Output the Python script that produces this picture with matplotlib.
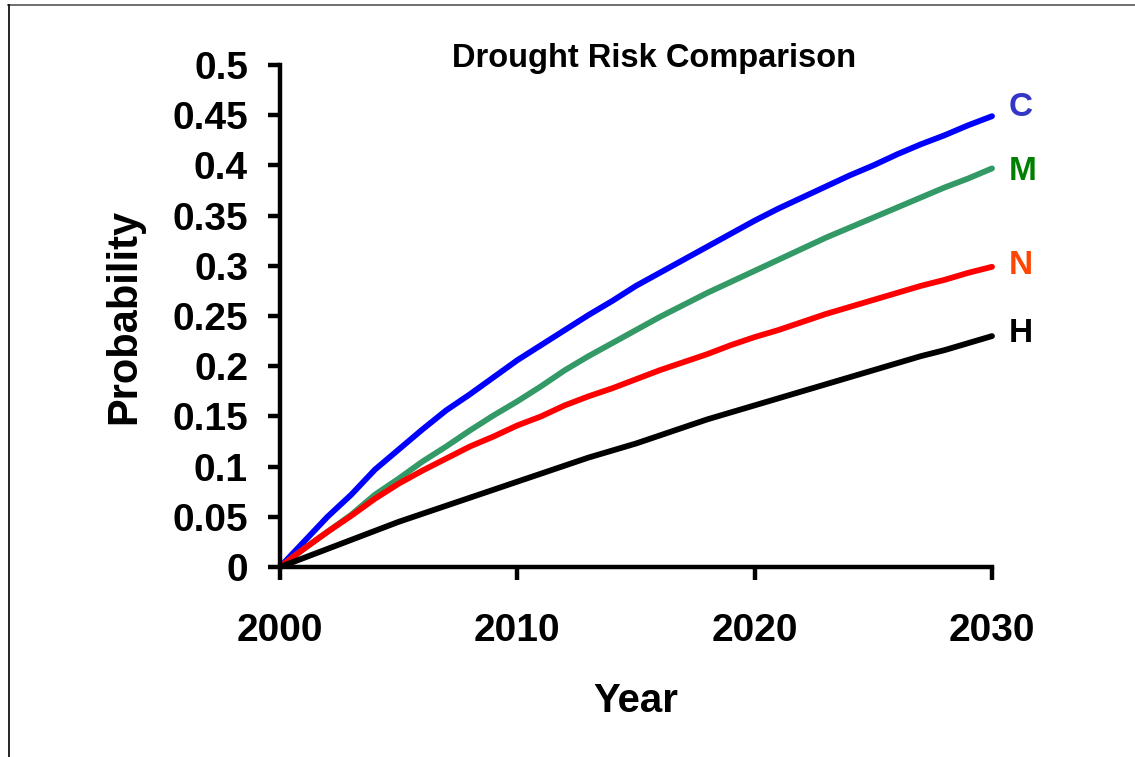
import matplotlib
matplotlib.use("Agg")
import matplotlib.pyplot as plt
from matplotlib.lines import Line2D

years = list(range(2000, 2031))
series_c = [0.0, 0.025, 0.05, 0.072, 0.097, 0.117, 0.137, 0.156, 0.172, 0.189, 0.206,
            0.221, 0.236, 0.251, 0.265, 0.28, 0.293, 0.306, 0.319, 0.332, 0.345,
            0.357, 0.368, 0.379, 0.39, 0.4, 0.411, 0.421, 0.43, 0.44, 0.449]
series_m = [0.0, 0.018, 0.035, 0.052, 0.072, 0.088, 0.105, 0.12, 0.136, 0.151, 0.165,
            0.18, 0.196, 0.21, 0.223, 0.236, 0.249, 0.261, 0.273, 0.284, 0.295,
            0.306, 0.317, 0.328, 0.338, 0.348, 0.358, 0.368, 0.378, 0.387, 0.397]
series_n = [0.0, 0.018, 0.035, 0.051, 0.068, 0.083, 0.096, 0.108, 0.12, 0.13, 0.141,
            0.15, 0.161, 0.17, 0.178, 0.187, 0.196, 0.204, 0.212, 0.221, 0.229,
            0.236, 0.244, 0.252, 0.259, 0.266, 0.273, 0.28, 0.286, 0.293, 0.299]
series_h = [0.0, 0.009, 0.018, 0.027, 0.036, 0.045, 0.053, 0.061, 0.069, 0.077, 0.085,
            0.093, 0.101, 0.109, 0.116, 0.123, 0.131, 0.139, 0.147, 0.154, 0.161,
            0.168, 0.175, 0.182, 0.189, 0.196, 0.203, 0.21, 0.216, 0.223, 0.23]

labels = ["C", "M", "N", "H"]
label_y = [0.458, 0.394, 0.300, 0.233]
line_colors = ["#0000FF", "#339966", "#FF0000", "#000000"]
label_colors = ["#3535C8", "#008000", "#FF4500", "#000000"]

x_ticks = [2000, 2010, 2020, 2030]
y_ticks = [0, 0.05, 0.1, 0.15, 0.2, 0.25, 0.3, 0.35, 0.4, 0.45, 0.5]
y_tick_labels = ["0", "0.05", "0.1", "0.15", "0.2", "0.25", "0.3", "0.35", "0.4", "0.45", "0.5"]

plt.rcParams['font.family'] = ['Liberation Sans', 'DejaVu Sans']
plt.rcParams['font.weight'] = 'bold'

fig = plt.figure(figsize=(11.35, 7.57), dpi=100)
ax = fig.add_axes([280 / 1135, 1 - 567 / 757, (992 - 280) / 1135, (567 - 65) / 757])

for ys, col in zip([series_c, series_m, series_n, series_h], line_colors):
    ax.plot(years, ys, color=col, lw=4.2, solid_capstyle='round', solid_joinstyle='round', clip_on=False)

for lab, yy, col in zip(labels, label_y, label_colors):
    ax.text(2030.7, yy, lab, color=col, fontsize=24, fontweight='bold', ha='left', va='center')

ax.set_xlim(2000, 2030)
ax.set_ylim(0, 0.5)
ax.set_xticks(x_ticks)
ax.set_xticklabels([str(t) for t in x_ticks])
ax.set_yticks(y_ticks)
ax.set_yticklabels(y_tick_labels)
for s in ['top', 'right']:
    ax.spines[s].set_visible(False)
for s in ['left', 'bottom']:
    ax.spines[s].set_linewidth(3.2)
ax.tick_params(axis='both', direction='out', length=9, width=3.2, labelsize=28)
ax.tick_params(axis='y', pad=14)
ax.tick_params(axis='x', pad=24)
for t in ax.get_xticklabels() + ax.get_yticklabels():
    t.set_fontweight('bold')

ax.set_xlabel("Year", fontsize=29, fontweight='bold', labelpad=24)
ax.set_ylabel("Probability", fontsize=30, fontweight='bold', labelpad=20)
fig.text(654 / 1135, 1 - 58 / 757, "Drought Risk Comparison", fontsize=23.5, fontweight='bold',
         ha='center', va='center')

fig.add_artist(Line2D([8 / 1135, 1], [1 - 4.5 / 757, 1 - 4.5 / 757], color='#555555', lw=1.2,
                      transform=fig.transFigure))
fig.add_artist(Line2D([8.5 / 1135, 8.5 / 1135], [0, 1 - 4.5 / 757], color='#000000', lw=1.2,
                      transform=fig.transFigure))

fig.savefig("out.png", dpi=100)
